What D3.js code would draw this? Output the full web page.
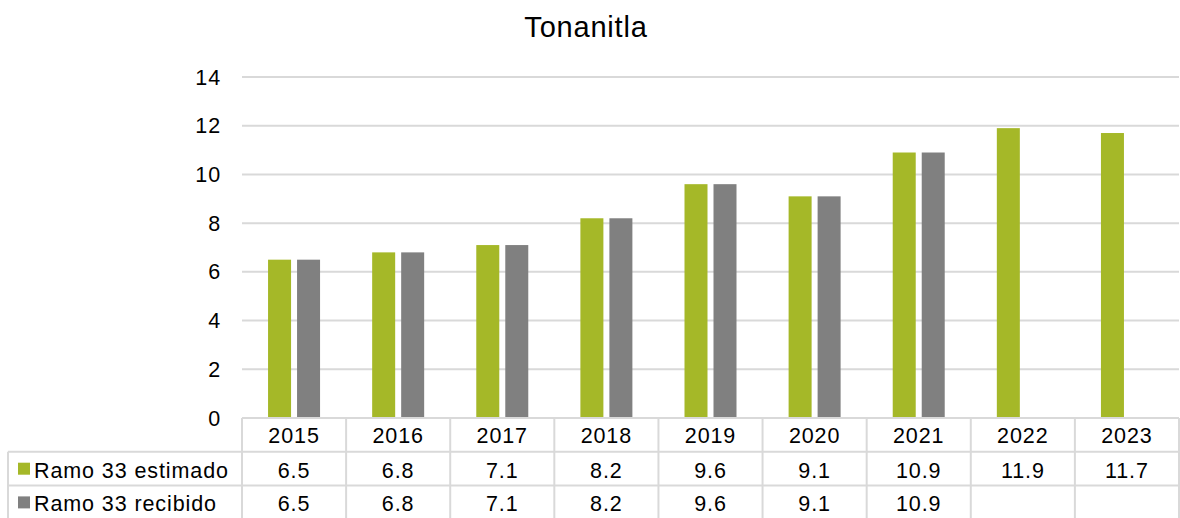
<!DOCTYPE html>
<html><head><meta charset="utf-8">
<script src="https://cdn.jsdelivr.net/npm/d3@7"></script>
<style>body{margin:0;background:#fff}svg{display:block;font-family:"Liberation Sans",Arial,sans-serif}</style>
</head><body>
<svg id="c" width="1180" height="518"></svg>
<script>
const categories = ["2015","2016","2017","2018","2019","2020","2021","2022","2023"];
const seriesNames = ["Ramo 33 estimado","Ramo 33 recibido"];
const estimado = [6.5,6.8,7.1,8.2,9.6,9.1,10.9,11.9,11.7];
const recibido = [6.5,6.8,7.1,8.2,9.6,9.1,10.9,null,null];
const yTicks = [0,2,4,6,8,10,12,14];
const colors = ["#A5B828","#808080"];

(function(){
const svg = d3.select("#c");
const pLeft = 242, pRight = 1179, pTop = 77, pBottom = 418;
const x = d3.scaleBand().domain(categories).range([pLeft,pRight]);
const y = d3.scaleLinear().domain([0,14]).range([pBottom,pTop]);
const gridColor = "#d9d9d9";
const fs = 21.5, ls = 0.9;

svg.append("text").attr("x",586).attr("y",37).attr("text-anchor","middle")
  .attr("font-size",29).attr("letter-spacing",0.8).attr("fill","#000").text("Tonanitla");

svg.append("g").selectAll("line").data(yTicks.filter(d=>d>0)).join("line")
  .attr("x1",pLeft).attr("x2",pRight).attr("y1",d=>y(d)).attr("y2",d=>y(d))
  .attr("stroke",gridColor).attr("stroke-width",2);
svg.append("g").selectAll("text").data(yTicks).join("text")
  .attr("x",221).attr("y",d=>y(d)+7.5).attr("text-anchor","end")
  .attr("font-size",fs).attr("letter-spacing",ls).attr("fill","#000").text(d=>d);

const bw = 23, gap = 6;
const series = [estimado, recibido];
series.forEach((vals,si)=>{
  svg.append("g").selectAll("rect").data(categories.map((c,i)=>({c,v:vals[i]})).filter(d=>d.v!=null)).join("rect")
    .attr("x",d=>x(d.c)+x.bandwidth()/2 + (si===0 ? -(bw+gap/2) : gap/2))
    .attr("width",bw)
    .attr("y",d=>y(d.v)).attr("height",d=>pBottom-y(d.v))
    .attr("fill",colors[si]);
});

const rowH = 33.7;
const tLeft = 8, tBottom = 518;
const tg = svg.append("g");
const line = (x1,y1,x2,y2)=>tg.append("line").attr("x1",x1).attr("y1",y1).attr("x2",x2).attr("y2",y2)
  .attr("stroke",gridColor).attr("stroke-width",2);
line(pLeft,pBottom,pRight,pBottom);
line(tLeft,pBottom+rowH,pRight,pBottom+rowH);
line(tLeft,pBottom+2*rowH,pRight,pBottom+2*rowH);
line(tLeft,pBottom+rowH,tLeft,tBottom);
categories.forEach(c=>line(x(c),pBottom,x(c),tBottom));
line(pRight,pBottom,pRight,tBottom);

tg.selectAll("text.h").data(categories).join("text").attr("class","h")
  .attr("x",d=>x(d)+x.bandwidth()/2).attr("y",pBottom+25).attr("text-anchor","middle")
  .attr("font-size",fs).attr("letter-spacing",ls).attr("fill","#000").text(d=>d);

series.forEach((vals,si)=>{
  const ry = pBottom + rowH*(si+1);
  tg.append("rect").attr("x",18).attr("y",ry+11).attr("width",12).attr("height",12).attr("fill",colors[si]);
  tg.append("text").attr("x",34).attr("y",ry+26).attr("font-size",fs).attr("letter-spacing",ls).attr("fill","#000").text(seriesNames[si]);
  tg.append("g").selectAll("text").data(categories.map((c,i)=>({c,v:vals[i]})).filter(d=>d.v!=null)).join("text")
    .attr("x",d=>x(d.c)+x.bandwidth()/2).attr("y",ry+26).attr("text-anchor","middle")
    .attr("font-size",fs).attr("letter-spacing",ls).attr("fill","#000").text(d=>d.v.toFixed(1));
});
})();
</script>
</body></html>
